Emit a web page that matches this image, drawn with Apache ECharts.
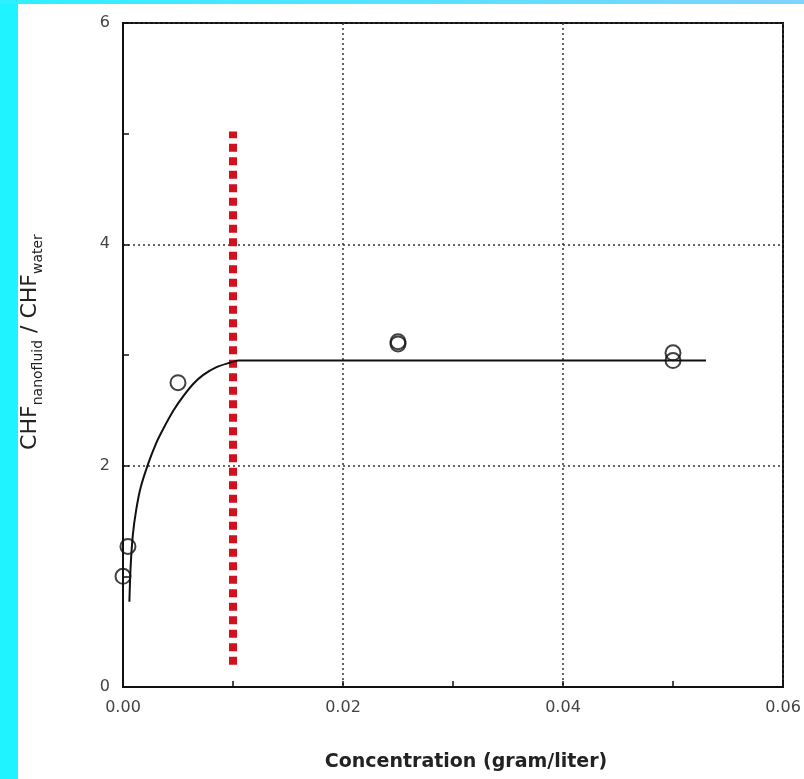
<!DOCTYPE html>
<html>
<head>
<meta charset="utf-8">
<script src="https://cdn.jsdelivr.net/npm/echarts@6/dist/echarts.min.js"></script>
<style>
  html, body { margin: 0; padding: 0; }
  body {
    width: 804px;
    height: 779px;
    position: relative;
    background: #1ef3ff;
    overflow: hidden;
  }
  .topband {
    position: absolute; left: 0; top: 0; width: 804px; height: 4px;
    background: linear-gradient(to right, #2ef0ff, #7fd3ff);
  }
  .paper {
    position: absolute; left: 18px; top: 4px; right: 0; bottom: 0;
    background: #fff;
  }
  #chart { position: absolute; left: 0; top: 0; width: 804px; height: 779px; }
</style>
</head>
<body>
<div class="topband"></div>
<div class="paper"></div>
<div id="chart"></div>
<script>
// measured points (open circles)
const pointX = [0.0, 0.00045, 0.005, 0.025, 0.025, 0.05, 0.05];
const pointY = [1.0, 1.27, 2.75, 3.10, 3.12, 3.02, 2.95];

// fitted curve
const curveX = [0.00058, 0.0007, 0.0009, 0.0012, 0.0016, 0.0023, 0.003, 0.0037, 0.0046, 0.0055, 0.0064, 0.0073, 0.0085, 0.0097, 0.0105, 0.053];
const curveY = [0.77, 1.1, 1.38, 1.6, 1.8, 2.02, 2.2, 2.34, 2.5, 2.63, 2.74, 2.82, 2.89, 2.93, 2.95, 2.95];

// red dashed marker at 0.01 g/l
const limitX = [0.01, 0.01];
const limitY = [0.2, 5.02];

const chart = echarts.init(document.getElementById("chart"));

const gridLine = {
  show: true,
  lineStyle: { color: "#333", width: 1.5, type: [2, 3] },
};

const option = {
  backgroundColor: "transparent",
  animation: false,
  grid: {
    left: 123,
    top: 23,
    width: 660,
    height: 664,
    show: true,
    borderColor: "#111",
    borderWidth: 2,
    backgroundColor: "transparent",
  },
  xAxis: {
    type: "value",
    min: 0,
    max: 0.06,
    interval: 0.02,
    name: "Concentration (gram/liter)",
    nameLocation: "middle",
    nameGap: 66,
    nameTextStyle: {
      fontFamily: "DejaVu Sans",
      fontWeight: "bold",
      fontSize: 19,
      color: "#222",
      padding: [0, 0, 0, 26],
    },
    axisLine: { show: true, lineStyle: { color: "#111", width: 2 } },
    axisTick: { show: true, inside: true, length: 6, lineStyle: { color: "#111", width: 1.5 } },
    minorTick: { show: true, splitNumber: 2, length: 6, lineStyle: { color: "#111", width: 1.5 } },
    axisLabel: {
      margin: 13,
      fontFamily: "DejaVu Sans",
      fontSize: 16,
      color: "#444",
      formatter: (v) => v.toFixed(2),
    },
    splitLine: gridLine,
  },
  yAxis: {
    type: "value",
    min: 0,
    max: 6,
    interval: 2,
    name: "{b|CHF}{s|nanofluid}{b| / CHF}{s|water}",
    nameLocation: "middle",
    nameGap: 78,
    nameTextStyle: {
      padding: [0, 0, 0, 26],
      rich: {
        b: { fontFamily: "DejaVu Sans", fontSize: 22, color: "#222", lineHeight: 26, verticalAlign: "top" },
        s: { fontFamily: "DejaVu Sans", fontSize: 14, color: "#222", lineHeight: 16, verticalAlign: "bottom" },
      },
    },
    axisLine: { show: true, lineStyle: { color: "#111", width: 2 } },
    axisTick: { show: true, inside: true, length: 6, lineStyle: { color: "#111", width: 1.5 } },
    minorTick: { show: true, splitNumber: 2, length: 6, lineStyle: { color: "#111", width: 1.5 } },
    axisLabel: {
      margin: 13,
      fontFamily: "DejaVu Sans",
      fontSize: 16,
      color: "#444",
    },
    splitLine: gridLine,
  },
  series: [
    {
      type: "line",
      data: limitX.map((x, i) => [x, limitY[i]]),
      symbol: "none",
      lineStyle: { color: "#d3111c", width: 8, type: [8, 5.5], cap: "butt" },
      z: 2,
    },
    {
      type: "line",
      data: curveX.map((x, i) => [x, curveY[i]]),
      symbol: "none",
      smooth: 0.3,
      lineStyle: { color: "#111", width: 2 },
      z: 3,
    },
    {
      type: "scatter",
      data: pointX.map((x, i) => [x, pointY[i]]),
      symbol: "circle",
      symbolSize: 15,
      itemStyle: { color: "rgba(0,0,0,0)", borderColor: "#111", borderWidth: 2 },
      z: 4,
    },
  ],
};

chart.setOption(option);
</script>
</body>
</html>
